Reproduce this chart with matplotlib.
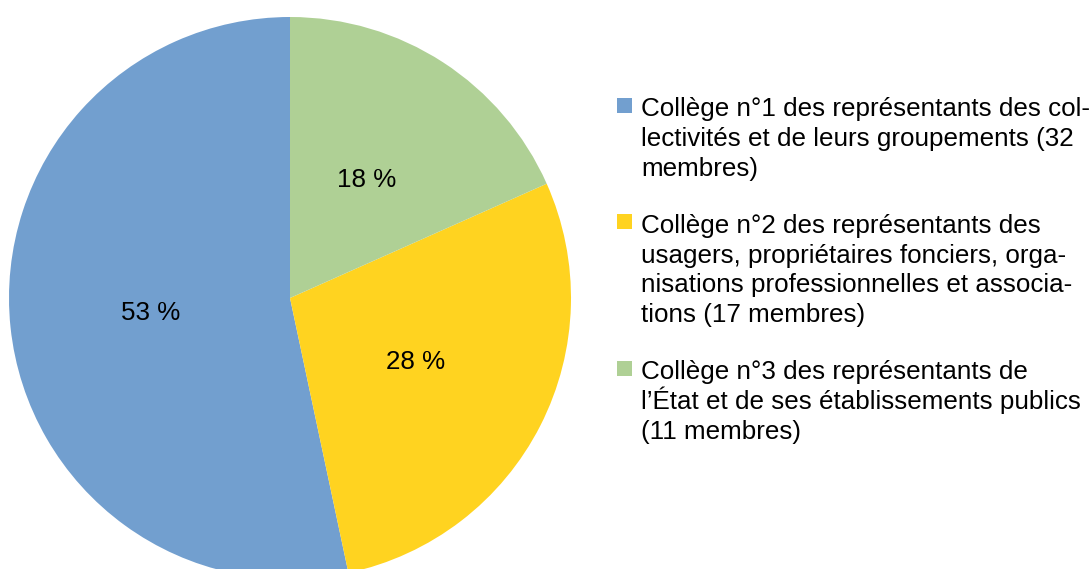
import matplotlib.pyplot as plt
from matplotlib.patches import Rectangle

plt.rcParams['font.family'] = ['Liberation Sans', 'DejaVu Sans']

# members per college
members = [32, 17, 11]
colors = ['#729fcf', '#ffd320', '#afd095']
labels = [
    "Collège n°1 des représentants des col-\nlectivités et de leurs groupements (32\nmembres)",
    "Collège n°2 des représentants des\nusagers, propriétaires fonciers, orga-\nnisations professionnelles et associa-\ntions (17 membres)",
    "Collège n°3 des représentants de\nl\u2019État et de ses établissements publics\n(11 membres)",
]

W, H = 1092, 569
fs = 18.7

fig = plt.figure(figsize=(W / 100, H / 100), dpi=100)
# pie centre ~ (290, 298) px, radius ~281 px
cx, cy, r = 290, 298, 281
ax = fig.add_axes([(cx - r) / W, 1 - (cy + r) / H, 2 * r / W, 2 * r / H])

ax.pie(members, colors=colors, startangle=90, counterclock=True,
       autopct=lambda p: f"{p:.0f} %", pctdistance=0.5,
       wedgeprops=dict(linewidth=0),
       textprops=dict(fontsize=fs, color='black'))
ax.set_xlim(-1, 1)
ax.set_ylim(-1, 1)
ax.set_aspect('equal')
ax.axis('off')

# legend drawn by hand: square + wrapped text, one line at a time
baselines = [116, 232.7, 379]
line_h = 29.8
sq = 15
for lab, col, yb in zip(labels, colors, baselines):
    for i, line in enumerate(lab.split("\n")):
        fig.text(641 / W, 1 - (yb + i * line_h) / H, line, fontsize=fs,
                 va='baseline', ha='left')
    yc = yb - 10.7
    fig.patches.append(Rectangle((617 / W, 1 - (yc + sq / 2) / H), sq / W, sq / H,
                                 transform=fig.transFigure, facecolor=col,
                                 edgecolor='none'))

plt.savefig("out.png", dpi=100)
